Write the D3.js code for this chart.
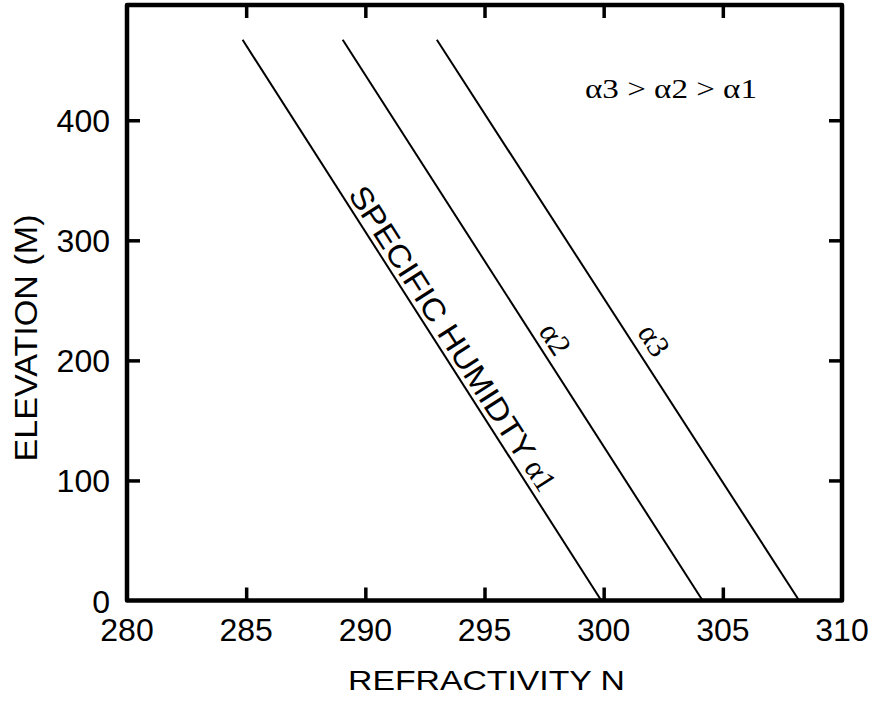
<!DOCTYPE html>
<html>
<head>
<meta charset="utf-8">
<script src="https://cdn.jsdelivr.net/npm/d3@7"></script>
<style>
  html, body { margin: 0; padding: 0; background: #fff; }
  svg { display: block; }
</style>
</head>
<body>
<svg id="chart" width="877" height="705"></svg>
<script>
// Refractivity profiles: elevation vs refractivity N for three humidity levels
const seriesNames = ["α1", "α2", "α3"];
const refractivityTop = [284.85, 289.05, 293.0];     // N at the top end of each line
const refractivityBottom = [299.9, 304.15, 308.2];   // N at elevation 0
const elevationTop = [467, 467, 467];
const elevationBottom = [0, 0, 0];

const xTicks = [280, 285, 290, 295, 300, 305, 310];
const yTicks = [0, 100, 200, 300, 400];
const xDomain = [280, 310];
const yDomain = [0, 496];

const svg = d3.select("#chart");
const sans = "'Liberation Sans', Arial, Helvetica, sans-serif";
const serif = "'Liberation Serif', 'Times New Roman', Times, serif";

const plotLeft = 127, plotRight = 842, plotTop = 5, plotBottom = 600.5;
const x = d3.scaleLinear().domain(xDomain).range([plotLeft, plotRight]);
const y = d3.scaleLinear().domain(yDomain).range([plotBottom, plotTop]);

// Inward ticks on all four sides
const tickLen = 13;
const g = svg.append("g");
const axisStyle = sel => {
  sel.select(".domain").remove();
  sel.selectAll(".tick line").attr("stroke", "#000").attr("stroke-width", 3.5);
};
g.append("g").attr("transform", `translate(0,${plotBottom})`)
  .call(d3.axisBottom(x).tickValues(xTicks).tickSizeInner(-tickLen).tickSizeOuter(0).tickFormat(""))
  .call(axisStyle);
g.append("g").attr("transform", `translate(0,${plotTop})`)
  .call(d3.axisTop(x).tickValues(xTicks).tickSizeInner(-tickLen).tickSizeOuter(0).tickFormat(""))
  .call(axisStyle);
g.append("g").attr("transform", `translate(${plotLeft},0)`)
  .call(d3.axisLeft(y).tickValues(yTicks).tickSizeInner(-tickLen).tickSizeOuter(0).tickFormat(""))
  .call(axisStyle);
g.append("g").attr("transform", `translate(${plotRight},0)`)
  .call(d3.axisRight(y).tickValues(yTicks).tickSizeInner(-tickLen).tickSizeOuter(0).tickFormat(""))
  .call(axisStyle);

// Drop the ticks that would sit on the frame corners
g.selectAll(".tick").filter(d => d === 280 || d === 310 || d === 0).remove();

// Frame
svg.append("rect")
  .attr("x", plotLeft).attr("y", plotTop)
  .attr("width", plotRight - plotLeft).attr("height", plotBottom - plotTop)
  .attr("fill", "none").attr("stroke", "#000").attr("stroke-width", 4.5)
  .attr("stroke-linejoin", "round");

// Tick labels
svg.append("g").selectAll("text").data(xTicks).join("text")
  .attr("x", d => x(d)).attr("y", 641)
  .attr("text-anchor", "middle")
  .attr("font-family", sans).attr("font-size", 32)
  .text(d => d);
svg.append("g").selectAll("text").data(yTicks).join("text")
  .attr("x", 110).attr("y", d => y(d) + 12)
  .attr("text-anchor", "end")
  .attr("font-family", sans).attr("font-size", 32)
  .text(d => d);

// Axis titles
svg.append("text")
  .attr("x", 486.5).attr("y", 690)
  .attr("text-anchor", "middle")
  .attr("font-family", sans).attr("font-size", 28)
  .attr("textLength", 277).attr("lengthAdjust", "spacingAndGlyphs")
  .text("REFRACTIVITY N");
svg.append("text")
  .attr("transform", "translate(37,338) rotate(-90)")
  .attr("text-anchor", "middle")
  .attr("font-family", sans).attr("font-size", 31)
  .attr("textLength", 247).attr("lengthAdjust", "spacingAndGlyphs")
  .text("ELEVATION (M)");

// Profile lines
const lines = seriesNames.map((name, i) => ({
  name,
  points: [[refractivityTop[i], elevationTop[i]], [refractivityBottom[i], elevationBottom[i]]]
}));
const lineGen = d3.line().x(d => x(d[0])).y(d => y(d[1]));
svg.append("g").selectAll("path").data(lines).join("path")
  .attr("d", d => lineGen(d.points))
  .attr("fill", "none").attr("stroke", "#000").attr("stroke-width", 2);

// Place a label along a line, rotated to its slope and lifted off it
function lineLabel(line, elev, offset, txt, opts) {
  const [p0, p1] = line.points;
  const t = (elev - p0[1]) / (p1[1] - p0[1]);
  const n = p0[0] + t * (p1[0] - p0[0]);
  const px = x(n), py = y(elev);
  const dx = x(p1[0]) - x(p0[0]), dy = y(p1[1]) - y(p0[1]);
  const ang = Math.atan2(dy, dx);
  const ux = Math.sin(ang), uy = -Math.cos(ang);
  const t2 = svg.append("text")
    .attr("transform", `translate(${px + ux * offset},${py + uy * offset}) rotate(${ang * 180 / Math.PI})`)
    .attr("text-anchor", opts.anchor)
    .attr("font-family", opts.family).attr("font-size", opts.size)
    .text(txt);
  if (opts.length) t2.attr("textLength", opts.length).attr("lengthAdjust", "spacingAndGlyphs");
  return t2;
}

lineLabel(lines[0], 336, 5, "SPECIFIC HUMIDTY", { anchor: "start", family: sans, size: 31, length: 318 });
lineLabel(lines[0], 97, 6, "α1", { anchor: "middle", family: serif, size: 31 });
lineLabel(lines[1], 210, 7, "α2", { anchor: "middle", family: serif, size: 31 });
lineLabel(lines[2], 208, 9, "α3", { anchor: "middle", family: serif, size: 31 });

// Ordering note
svg.append("text")
  .attr("x", 585).attr("y", 98)
  .attr("font-family", serif).attr("font-size", 27)
  .attr("textLength", 172).attr("lengthAdjust", "spacingAndGlyphs")
  .text("α3 > α2 > α1");
</script>
</body>
</html>
